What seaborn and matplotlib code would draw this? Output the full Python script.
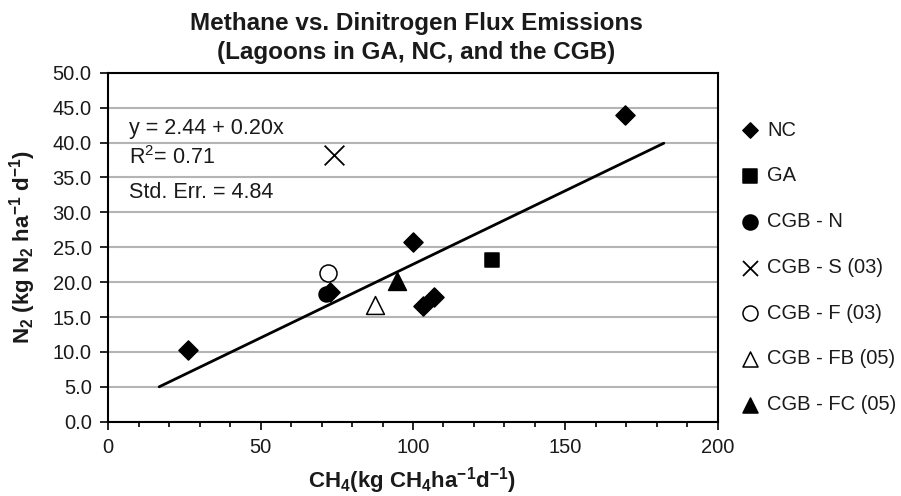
import numpy as np
import pandas as pd
import seaborn as sns
import matplotlib.pyplot as plt
from matplotlib.ticker import MultipleLocator, FormatStrFormatter

# Sites (legend order) and how each one is drawn
SITES = ["NC", "GA", "CGB - N", "CGB - S (03)", "CGB - F (03)", "CGB - FB (05)", "CGB - FC (05)"]
MARKERS = ["D", "s", "o", "x", "o", "^", "^"]
FACES = ["black", "black", "black", "black", "white", "white", "black"]
PLOT_SIZES = [94, 100, 115, 200, 150, 165, 165]
LEGEND_SIZES = [60, 104, 117, 117, 117, 117, 117]

SITE = ["NC", "NC", "NC", "NC", "NC", "NC",
        "GA", "CGB - N", "CGB - S (03)", "CGB - F (03)", "CGB - FB (05)", "CGB - FC (05)"]
CH4 = [26.1, 72.9, 100.1, 103.4, 106.8, 169.5, 125.8, 71.3, 74.2, 72.2, 87.4, 94.7]
N2 = [10.3, 18.6, 25.8, 16.6, 17.8, 43.9, 23.1, 18.3, 38.2, 21.3, 16.7, 20.1]

# Trend line as drawn in the original (end points)
TREND_X = [16.7, 182.3]
TREND_Y = [5.0, 39.9]

STATS = ["y = 2.44 + 0.20x", "R$^2$= 0.71", "Std. Err. = 4.84"]
STATS_Y = [42.0, 37.8, 32.9]

sns.set_theme(style="white")
plt.rcParams["font.family"] = ["Liberation Sans", "DejaVu Sans"]
plt.rcParams["mathtext.fontset"] = "custom"
plt.rcParams["mathtext.rm"] = "Liberation Sans"
plt.rcParams["mathtext.it"] = "Liberation Sans:italic"
plt.rcParams["mathtext.bf"] = "Liberation Sans:bold"

df = pd.DataFrame({"Site": SITE, "CH4": CH4, "N2": N2})
trend = pd.DataFrame({"x": TREND_X, "y": TREND_Y})

fig = plt.figure(figsize=(9.01, 4.96), dpi=100)
ax = fig.add_axes([0.1202, 0.1498, 0.6764, 0.7036])

ax.yaxis.grid(True, color="#b4b4b4", linewidth=1.5)
ax.set_axisbelow(True)

sns.lineplot(data=trend, x="x", y="y", color="black", linewidth=2, ax=ax, zorder=2)

for site, mk, face, size in zip(SITES, MARKERS, FACES, PLOT_SIZES):
    sub = df[df["Site"] == site]
    if mk == "x":
        sns.scatterplot(data=sub, x="CH4", y="N2", marker="x", color="black", s=size,
                        linewidth=1.3, label=site, ax=ax, zorder=3)
    else:
        sns.scatterplot(data=sub, x="CH4", y="N2", marker=mk, color=face, edgecolor="black",
                        s=size, linewidth=1.1, label=site, ax=ax, zorder=3)

for txt, y in zip(STATS, STATS_Y):
    ax.text(6.7, y, txt, va="center", ha="left", fontsize=15.5, color="#1a1a1a")

ax.set_xlim(0, 200)
ax.set_ylim(0, 50)
ax.xaxis.set_major_locator(MultipleLocator(50))
ax.xaxis.set_minor_locator(MultipleLocator(10))
ax.yaxis.set_major_locator(MultipleLocator(5))
ax.yaxis.set_major_formatter(FormatStrFormatter("%.1f"))
ax.tick_params(axis="both", which="both", direction="out", colors="black", labelcolor="#1a1a1a",
               width=1.2, labelsize=14.5, bottom=True, left=True)
ax.tick_params(axis="y", which="major", length=6, pad=6)
ax.tick_params(axis="x", which="major", length=6, pad=6)
ax.tick_params(axis="x", which="minor", length=3.8)
for sp in ax.spines.values():
    sp.set_color("black")
    sp.set_linewidth(1.5)
ax.set_xlabel("")
ax.set_ylabel("")

leg = ax.legend(loc="upper left", bbox_to_anchor=(0.8235, 0.757), bbox_transform=fig.transFigure,
                frameon=False, fontsize=14.5, borderpad=0, labelspacing=1.33,
                handlelength=0.8, handletextpad=0.45, borderaxespad=0)
for h, size in zip(leg.legend_handles, LEGEND_SIZES):
    h.set_sizes([size])
for t in leg.get_texts():
    t.set_color("#1a1a1a")

fig.text(0.4617, 1 - 30 / 496, "Methane vs. Dinitrogen Flux Emissions", ha="center", va="baseline",
         fontsize=17.5, fontweight="bold", color="#1a1a1a")
fig.text(0.4617, 1 - 59 / 496, "(Lagoons in GA, NC, and the CGB)", ha="center", va="baseline",
         fontsize=17.5, fontweight="bold", color="#1a1a1a")
fig.text(412 / 901, 1 - 487 / 496, r"$\mathbf{CH_4(kg\ CH_4ha^{-1}d^{-1})}$", ha="center",
         va="baseline", fontsize=16, color="#1a1a1a")
fig.text(23 / 901, 1 - 247 / 496, r"$\mathbf{N_2\ (kg\ N_2\ ha^{-1}\ d^{-1})}$", ha="center",
         va="center", rotation=90, fontsize=16, color="#1a1a1a")

fig.savefig("out.png", dpi=100)
